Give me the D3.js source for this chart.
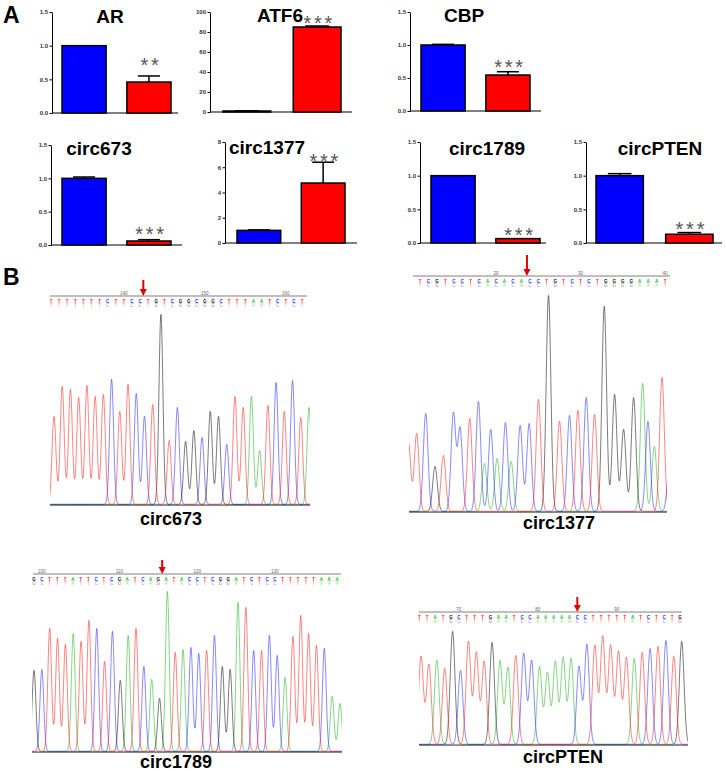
<!DOCTYPE html>
<html>
<head>
<meta charset="utf-8">
<script src="https://cdn.jsdelivr.net/npm/d3@7"></script>
<style>
  body { margin: 0; background: #fff; }
  text { font-family: "Liberation Sans", Arial, sans-serif; }
</style>
</head>
<body>
<script>
// ---- panel A : qPCR bars ----
const genes = ["AR", "ATF6", "CBP", "circ673", "circ1377", "circ1789", "circPTEN"];
const groups = ["control", "treated"];
const controlMean = [1.00, 1.0, 1.00, 1.00, 1.00, 1.00, 1.00];
const controlSem = [0.00, 0.2, 0.01, 0.02, 0.04, 0.00, 0.03];
const treatedMean = [0.46, 85.0, 0.545, 0.06, 4.75, 0.065, 0.13];
const treatedSem = [0.09, 1.0, 0.05, 0.02, 1.65, 0.00, 0.025];
const yMax = [1.5, 100, 1.5, 1.5, 8, 1.5, 1.5];
const yStep = [0.5, 20, 0.5, 0.5, 2, 0.5, 0.5];
const stars = ["**", "***", "***", "***", "***", "***", "***"];

// ---- panel B : sequencing traces ----
const c673Seq = "TTTTTTTCTTCCTGTCGGCGGCTTTAATCTCT";
const c673Bases = "TTTTTTTCTTCCTGTCGGCGGCTTAATCTCTA";
const c673Heights = [88, 118, 115, 107, 119, 108, 110, 125, 93, 120, 111, 88, 100, 190, 64, 97,
                     63, 74, 67, 93, 88, 60, 108, 97, 108, 54, 99, 122, 93, 124, 87, 97];
const c673Ticks = [9, 19, 29];
const c673TickLabels = ["140", "150", "160"];
const c673Junction = 11.4;

const c1377Seq = "TCGTCCTCACACACCTGTCTCTGGGGAAAT";
const c1377Bases = "TTCGTCCTCACACACCTGTCTCTGGGGACATC";
const c1377Pos = [-1.0, 0, 1.08, 2.2, 3.2, 4.4, 5.2, 6.36, 7.4, 8.12, 8.88, 9.64, 10.64, 11.32, 12.4, 13.48,
                  14.6, 15.8, 17.12, 18.32, 19.32, 20.32, 21.32, 22.48, 23.72, 24.8, 26.0, 27.08, 27.72, 28.48, 29.4, 30.3];
const c1377Heights = [70, 78, 98, 45, 56, 98, 83, 93, 110, 48, 82, 53, 89, 50, 86, 88,
                      112, 216, 90, 96, 101, 114, 97, 205, 117, 82, 114, 128, 90, 65, 134, 45];
const c1377Ticks = [9, 19, 29];
const c1377TickLabels = ["20", "30", "40"];
const c1377Junction = 12.66;

const c1789Seq = "GCTTTATTCTCGATCAGATACCTCGGATCTCCTTTTTAAA";
const c1789Bases = "GCTTTATTCTCGATCAGATACCTCGGATCTCCATTTTCAA";
const c1789Heights = [81, 82, 123, 113, 107, 118, 110, 131, 123, 90, 120, 71, 116, 123, 85, 72, 53, 160, 99, 102,
                      104, 98, 101, 116, 85, 82, 149, 144, 101, 101, 116, 96, 74, 115, 136, 118, 106, 103, 55, 48];
const c1789Ticks = [1, 11, 21, 31];
const c1789TickLabels = ["100", "110", "120", "130"];
const c1789Junction = 16.5;

const cPtenSeq = "TTATGCTTTGAATCCAAAAACCTTTTTATCTCTG";
const cPtenBases = "TTATGCTTTGAATCCAAAAACCTTTTTATCTCTG";
const cPtenHeights = [88, 80, 84, 76, 113, 74, 103, 92, 83, 102, 84, 77, 89, 91, 84, 78, 72,
                      83, 87, 86, 78, 100, 99, 108, 99, 93, 87, 86, 92, 96, 98, 104, 88, 103];
const cPtenTicks = [5, 15, 25];
const cPtenTickLabels = ["70", "80", "90"];
const cPtenJunction = 20;

// layout
const barLayout = [
  {ax: 52, x1: 62, x2: 171, end: 178, top: 12, bottom: 113, tx: 110, ty: 23, sg: 16},
  {ax: 210, x1: 223, x2: 341, end: 352, top: 12, bottom: 112, tx: 280, ty: 22, sg: 8},
  {ax: 410, x1: 421, x2: 530, end: 541, top: 12, bottom: 111, tx: 464, ty: 22, sg: 10},
  {ax: 51, x1: 62, x2: 171, end: 182, top: 145, bottom: 245, tx: 99, ty: 155, sg: 11},
  {ax: 225, x1: 237, x2: 345, end: 357, top: 142, bottom: 243, tx: 267, ty: 154, sg: 6},
  {ax: 420, x1: 431, x2: 540, end: 546, top: 142, bottom: 243, tx: 487, ty: 155, sg: 9},
  {ax: 586, x1: 596, x2: 713, end: 722, top: 142, bottom: 243, tx: 660, ty: 155, sg: 9}
];

const traces = [
  {name: "circ673", seq: c673Seq, bases: c673Bases, heights: c673Heights, pos: null,
   ticks: c673Ticks, tickLabels: c673TickLabels, junction: c673Junction,
   ruler: [50, 307], ry: 296, letters: [51, 302], peaks: [54, 309], clip: [50, 310],
   base: 505, sigma: 0.24, label: [171, 525], arrowTop: 280},
  {name: "circ1377", seq: c1377Seq, bases: c1377Bases, heights: c1377Heights, pos: c1377Pos,
   ticks: c1377Ticks, tickLabels: c1377TickLabels, junction: c1377Junction,
   ruler: [413, 670], ry: 276, letters: [420, 665], peaks: [409, 667], clip: [409, 667],
   base: 512, sigma: 0.28, label: [559, 529], arrowTop: 255},
  {name: "circ1789", seq: c1789Seq, bases: c1789Bases, heights: c1789Heights, pos: null,
   ticks: c1789Ticks, tickLabels: c1789TickLabels, junction: c1789Junction,
   ruler: [33, 341], ry: 574, letters: [34, 337], peaks: [34, 340], clip: [32, 342],
   base: 752, sigma: 0.24, label: [176, 768], arrowTop: 560},
  {name: "circPTEN", seq: cPtenSeq, bases: cPtenBases, heights: cPtenHeights, pos: null,
   ticks: cPtenTicks, tickLabels: cPtenTickLabels, junction: cPtenJunction,
   ruler: [419, 682], ry: 612, letters: [419.3, 680], peaks: [421, 681.7], clip: [419, 688],
   base: 745, sigma: 0.3, label: [563, 763], arrowTop: 597}
];

const baseColor = {A: "#22b422", C: "#2a2aff", G: "#111111", T: "#ff2020"};

const svg = d3.select("body").append("svg")
    .attr("width", 726)
    .attr("height", 771);

svg.append("rect").attr("width", 726).attr("height", 771).attr("fill", "#fff");

// panel letters
svg.append("text").attr("x", 3).attr("y", 23)
    .attr("font-size", 23).attr("font-weight", "bold").text("A");
svg.append("text").attr("x", 3).attr("y", 285)
    .attr("font-size", 23).attr("font-weight", "bold").text("B");

// ---------- bar charts ----------
genes.forEach((gene, i) => {
  const L = barLayout[i];
  const g = svg.append("g");

  const y = d3.scaleLinear()
      .domain([0, yMax[i]])
      .range([L.bottom, L.top]);

  const x = d3.scaleBand()
      .domain(groups)
      .range([L.x1, L.x2])
      .paddingInner(0.32)
      .paddingOuter(0);

  const fmt = yMax[i] < 5 ? d3.format(".1f") : d3.format("d");

  const axis = g.append("g")
      .attr("transform", `translate(${L.ax},0)`)
      .call(d3.axisLeft(y)
              .tickValues(d3.range(0, yMax[i] + yStep[i] / 2, yStep[i]))
              .tickSize(2.5)
              .tickSizeOuter(0)
              .tickPadding(1.5)
              .tickFormat(fmt));
  axis.select(".domain").attr("stroke", "#000").attr("stroke-width", 1);
  axis.selectAll(".tick line").attr("stroke", "#000");
  axis.selectAll(".tick text")
      .attr("font-size", 6)
      .attr("font-weight", "bold")
      .attr("font-family", "Liberation Sans, Arial, sans-serif")
      .attr("fill", "#333");

  // baseline
  g.append("line")
      .attr("x1", L.ax).attr("x2", L.end)
      .attr("y1", y(0)).attr("y2", y(0))
      .attr("stroke", "#000").attr("stroke-width", 1);

  const rows = [
    {grp: "control", mean: controlMean[i], sem: controlSem[i], fill: "#0000ff"},
    {grp: "treated", mean: treatedMean[i], sem: treatedSem[i], fill: "#ff0000"}
  ];

  // error bars (up only)
  rows.filter(d => d.sem > 0).forEach(d => {
    const cx = x(d.grp) + x.bandwidth() / 2;
    g.append("line")
        .attr("x1", cx).attr("x2", cx)
        .attr("y1", y(d.mean)).attr("y2", y(d.mean + d.sem))
        .attr("stroke", "#000").attr("stroke-width", 1.5);
    g.append("line")
        .attr("x1", cx - x.bandwidth() * 0.25).attr("x2", cx + x.bandwidth() * 0.25)
        .attr("y1", y(d.mean + d.sem)).attr("y2", y(d.mean + d.sem))
        .attr("stroke", "#000").attr("stroke-width", 1.5);
  });

  g.selectAll("rect.bar")
    .data(rows)
    .enter().append("rect")
      .attr("class", "bar")
      .attr("x", d => x(d.grp))
      .attr("y", d => y(d.mean))
      .attr("width", x.bandwidth())
      .attr("height", d => y(0) - y(d.mean))
      .attr("fill", d => d.fill)
      .attr("stroke", "#000")
      .attr("stroke-width", 1.5);

  // significance stars
  const t = rows[1];
  g.append("text")
      .attr("x", x("treated") + x.bandwidth() / 2)
      .attr("y", y(t.mean + t.sem) - L.sg + 12)
      .attr("text-anchor", "middle")
      .attr("font-family", "DejaVu Sans, sans-serif")
      .attr("font-size", 20)
      .attr("letter-spacing", -1.4)
      .attr("fill", "#555")
      .text(stars[i].split("").join(" "));

  g.append("text")
      .attr("x", L.tx).attr("y", L.ty)
      .attr("text-anchor", "middle")
      .attr("font-size", 19)
      .attr("font-weight", "bold")
      .text(gene);
});

// ---------- chromatograms ----------
traces.forEach((P, k) => {
  const g = svg.append("g");
  const n = P.bases.length;
  const pos = P.pos || d3.range(n);
  const dom = P.pos ? [P.pos[0] + 0.08, 30.0] : [0, n - 1];

  const xp = d3.scaleLinear().domain(dom).range(P.peaks);
  const yp = d3.scaleLinear().domain([0, 200]).range([P.base, P.base - 200]);
  const xl = d3.scaleLinear().domain([0, P.seq.length - 1]).range(P.letters);

  const clipId = "clip" + k;
  svg.append("clipPath").attr("id", clipId)
    .append("rect")
      .attr("x", P.clip[0]).attr("y", P.base - 230)
      .attr("width", P.clip[1] - P.clip[0]).attr("height", 231);

  // ruler
  g.append("line")
      .attr("x1", P.ruler[0]).attr("x2", P.ruler[1])
      .attr("y1", P.ry).attr("y2", P.ry)
      .attr("stroke", "#aaa").attr("stroke-width", 1.5);

  g.selectAll("text.tick")
    .data(P.ticks)
    .enter().append("text")
      .attr("class", "tick")
      .attr("x", d => xl(d))
      .attr("y", P.ry - 1)
      .attr("text-anchor", "middle")
      .attr("font-size", 4.5)
      .attr("fill", "#666")
      .text((d, i) => P.tickLabels[i]);

  // base calls: coloured letter with a faded copy underneath
  const letters = P.seq.split("");
  const calls = g.selectAll("text.base")
    .data(letters)
    .enter().append("text")
      .attr("class", "base")
      .attr("text-anchor", "middle")
      .attr("font-family", "DejaVu Sans, sans-serif")
      .attr("font-size", 4.5)
      .attr("font-weight", "bold")
      .attr("fill", d => baseColor[d]);
  calls.append("tspan")
      .attr("x", (d, i) => xl(i))
      .attr("y", P.ry + 6.5)
      .text(d => d);
  calls.append("tspan")
      .attr("x", (d, i) => xl(i))
      .attr("y", P.ry + 10.5)
      .attr("fill-opacity", 0.4)
      .text(d => d);

  // traces: one summed line per dye
  const line = d3.line()
      .x(d => xp(d[0]))
      .y(d => yp(d[1]));

  const lo = dom[0] - 1, hi = dom[1] + 1;
  ["A", "C", "G", "T"].forEach(b => {
    const pts = [];
    for (let t = lo; t <= hi; t += 0.04) {
      let v = 0.6;
      pos.forEach((p, i) => {
        if (P.bases[i] === b) v += P.heights[i] * Math.exp(-((t - p) * (t - p)) / (2 * P.sigma * P.sigma));
      });
      pts.push([t, v]);
    }
    g.append("path")
        .attr("clip-path", `url(#${clipId})`)
        .attr("d", line(pts))
        .attr("fill", "none")
        .attr("stroke", baseColor[b])
        .attr("stroke-opacity", 0.55)
        .attr("stroke-width", 1);
  });

  // baseline
  g.append("line")
      .attr("x1", P.clip[0]).attr("x2", P.clip[1])
      .attr("y1", P.base + 0.5).attr("y2", P.base + 0.5)
      .attr("stroke", "#888").attr("stroke-width", 1.2);

  // junction arrow
  const ax = xl(P.junction);
  g.append("line")
      .attr("x1", ax).attr("x2", ax)
      .attr("y1", P.arrowTop).attr("y2", P.ry - 5)
      .attr("stroke", "#e00000").attr("stroke-width", 2);
  g.append("path")
      .attr("d", d3.line()([[ax - 3.5, P.ry - 7], [ax + 3.5, P.ry - 7], [ax, P.ry]]) + "Z")
      .attr("fill", "#e00000");

  g.append("text")
      .attr("x", P.label[0]).attr("y", P.label[1])
      .attr("text-anchor", "middle")
      .attr("font-size", 18)
      .attr("font-weight", "bold")
      .text(P.name);
});
</script>
</body>
</html>
